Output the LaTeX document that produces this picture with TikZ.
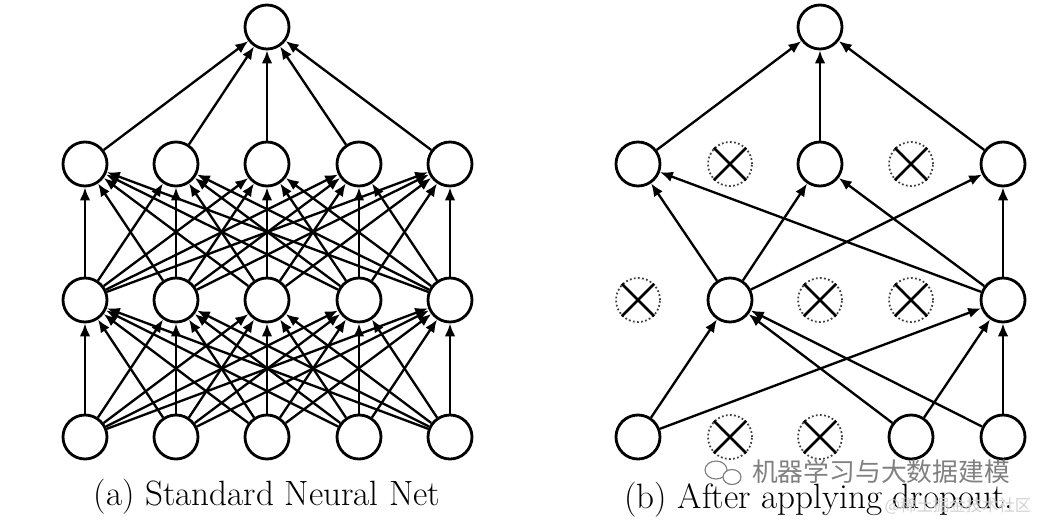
\documentclass[tikz,border=0pt]{standalone}
\usepackage{fontspec}
\newfontfamily\cjk{Noto Sans CJK SC}
\usetikzlibrary{arrows.meta}
\begin{document}
\begin{tikzpicture}[x=0.03cm,y=-0.03cm,
  neuron/.style={circle,draw,line width=2.4pt,minimum size=1.32cm,inner sep=0pt},
  dropped/.style={circle,draw=black!75,dotted,line width=1.5pt,minimum size=1.32cm,inner sep=0pt},
  conn/.style={line width=2pt,-{Latex[length=11pt,width=9pt]}},
  xline/.style={line width=2.2pt},
  caption/.style={font=\fontsize{30}{36}\selectfont,inner sep=0pt},
  wmark/.style={text=black!50,font=\cjk\fontsize{22}{26}\selectfont,inner sep=0pt},
]
\useasboundingbox (0,0) rectangle (1044,520);
% ---------- (a) standard net ----------
\foreach \i/\x in {1/85,2/176,3/267,4/359,5/450} {
  \node[neuron] (la\i) at (\x,437) {};
  \node[neuron] (lb\i) at (\x,300) {};
  \node[neuron] (lc\i) at (\x,164) {};
}
\node[neuron] (lo) at (267,27) {};
\foreach \i in {1,...,5} {
  \foreach \j in {1,...,5} {
    \draw[conn] (la\i) -- (lb\j);
    \draw[conn] (lb\i) -- (lc\j);
  }
  \draw[conn] (lc\i) -- (lo);
}
\node[caption] (capa) at (267,497) {(a) Standard Neural Net};
% ---------- (b) after dropout ----------
\node[neuron] (ra1) at (638,437) {};
\node[dropped] (ra2) at (730,437) {};
\node[dropped] (ra3) at (820,437) {};
\node[neuron] (ra4) at (911,437) {};
\node[neuron] (ra5) at (1003,437) {};
\node[dropped] (rb1) at (638,300) {};
\node[neuron] (rb2) at (730,300) {};
\node[dropped] (rb3) at (820,300) {};
\node[dropped] (rb4) at (911,300) {};
\node[neuron] (rb5) at (1003,300) {};
\node[neuron] (rc1) at (638,164) {};
\node[dropped] (rc2) at (730,164) {};
\node[neuron] (rc3) at (820,164) {};
\node[dropped] (rc4) at (911,164) {};
\node[neuron] (rc5) at (1003,164) {};
\node[neuron] (ro) at (820,27) {};
\foreach \n in {ra2,ra3,rb1,rb3,rb4,rc2,rc4} {
  \draw[xline] (\n.north west) -- (\n.south east);
  \draw[xline] (\n.north east) -- (\n.south west);
}
\foreach \a/\b in {ra1/rb2,ra4/rb2,ra5/rb2,ra1/rb5,ra4/rb5,ra5/rb5,
                   rb2/rc1,rb5/rc1,rb2/rc3,rb5/rc3,rb2/rc5,rb5/rc5,
                   rc1/ro,rc3/ro,rc5/ro} {
  \draw[conn] (\a) -- (\b);
}
\node[caption] (capb) at (819,500) {(b) After applying dropout.};
% ---------- watermark ----------
\draw[black!50,line width=1pt] (716,470) ellipse [x radius=11,y radius=9];
\draw[black!50,line width=1pt,fill=white] (732,477) ellipse [x radius=9,y radius=7.5];
\node[wmark] (wm) at (881,472) {机器学习与大数据建模};
\node[text=black!18,font=\cjk\fontsize{14}{16}\selectfont,inner sep=0pt] (wm2) at (958,506) {@稀土掘金技术社区};
\end{tikzpicture}
\end{document}
